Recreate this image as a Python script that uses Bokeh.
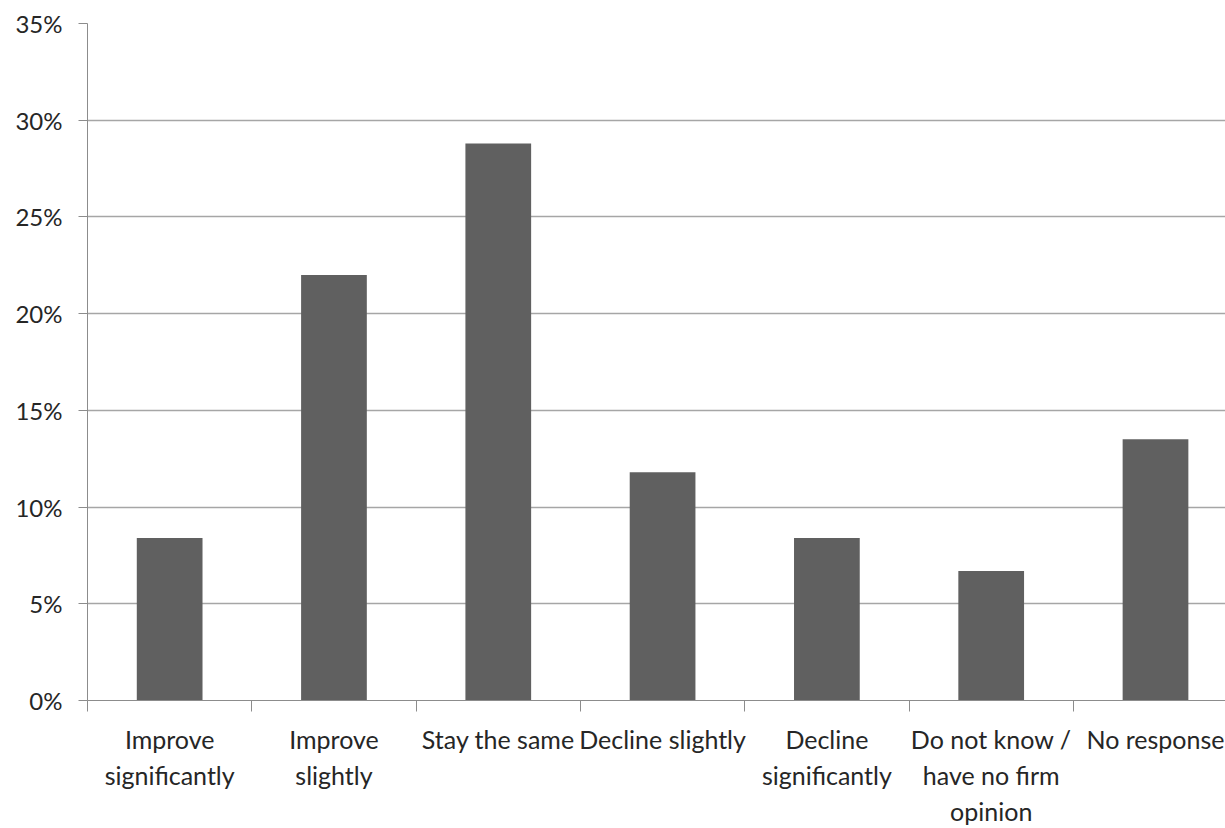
from bokeh.plotting import figure
from bokeh.models import FixedTicker, NumeralTickFormatter, Range1d, ColumnDataSource
from bokeh.embed import file_html
from bokeh.resources import INLINE

categories = ["Improve\nsignificantly", "Improve\nslightly", "Stay the same", "Decline slightly",
              "Decline\nsignificantly", "Do not know /\nhave no firm\nopinion", "No response"]
values = [0.084, 0.220, 0.288, 0.118, 0.084, 0.067, 0.135]
y_ticks = [0.0, 0.05, 0.10, 0.15, 0.20, 0.25, 0.30, 0.35]

xs = [i + 0.5 for i in range(len(categories))]
src = ColumnDataSource(dict(x=xs, top=values))

FONT = "Lato"
p = figure(width=1225, height=828, output_backend="svg", toolbar_location=None,
           x_range=Range1d(0, 6.926), y_range=Range1d(0, 0.35),
           min_border_left=87, min_border_right=0, min_border_top=23, min_border_bottom=128)
p.outline_line_color = None
p.background_fill_color = "white"

p.vbar(x="x", top="top", width=0.40, bottom=0, source=src, fill_color="#606060", line_color=None)

p.xgrid.visible = False
p.ygrid.ticker = FixedTicker(ticks=y_ticks)
p.ygrid.grid_line_color = "#a6a6a6"
p.ygrid.grid_line_width = 1.5

p.yaxis.ticker = FixedTicker(ticks=y_ticks)
p.yaxis.formatter = NumeralTickFormatter(format="0%")
p.yaxis.axis_line_color = "#8c8c8c"
p.yaxis.major_tick_line_color = "#8c8c8c"
p.yaxis.major_tick_out = 9
p.yaxis.major_tick_in = 0
p.yaxis.minor_tick_line_color = None
p.yaxis.major_label_standoff = 16
p.yaxis.major_label_text_font = FONT
p.yaxis.major_label_text_font_size = "24px"
p.yaxis.major_label_text_color = "#262626"

p.xaxis.ticker = FixedTicker(ticks=xs, minor_ticks=list(range(len(categories) + 1)))
p.xaxis.major_label_overrides = {x: c for x, c in zip(xs, categories)}
p.xaxis.axis_line_color = "#8c8c8c"
p.xaxis.major_tick_line_color = None
p.xaxis.major_tick_out = 0
p.xaxis.major_tick_in = 0
p.xaxis.minor_tick_line_color = "#8c8c8c"
p.xaxis.minor_tick_out = 11
p.xaxis.minor_tick_in = 0
p.xaxis.major_label_standoff = 12
p.xaxis.major_label_text_font = FONT
p.xaxis.major_label_text_font_size = "25px"
p.xaxis.major_label_text_color = "#262626"
p.xaxis.major_label_text_line_height = 1.2

open("out.html", "w").write(file_html(p, INLINE))
